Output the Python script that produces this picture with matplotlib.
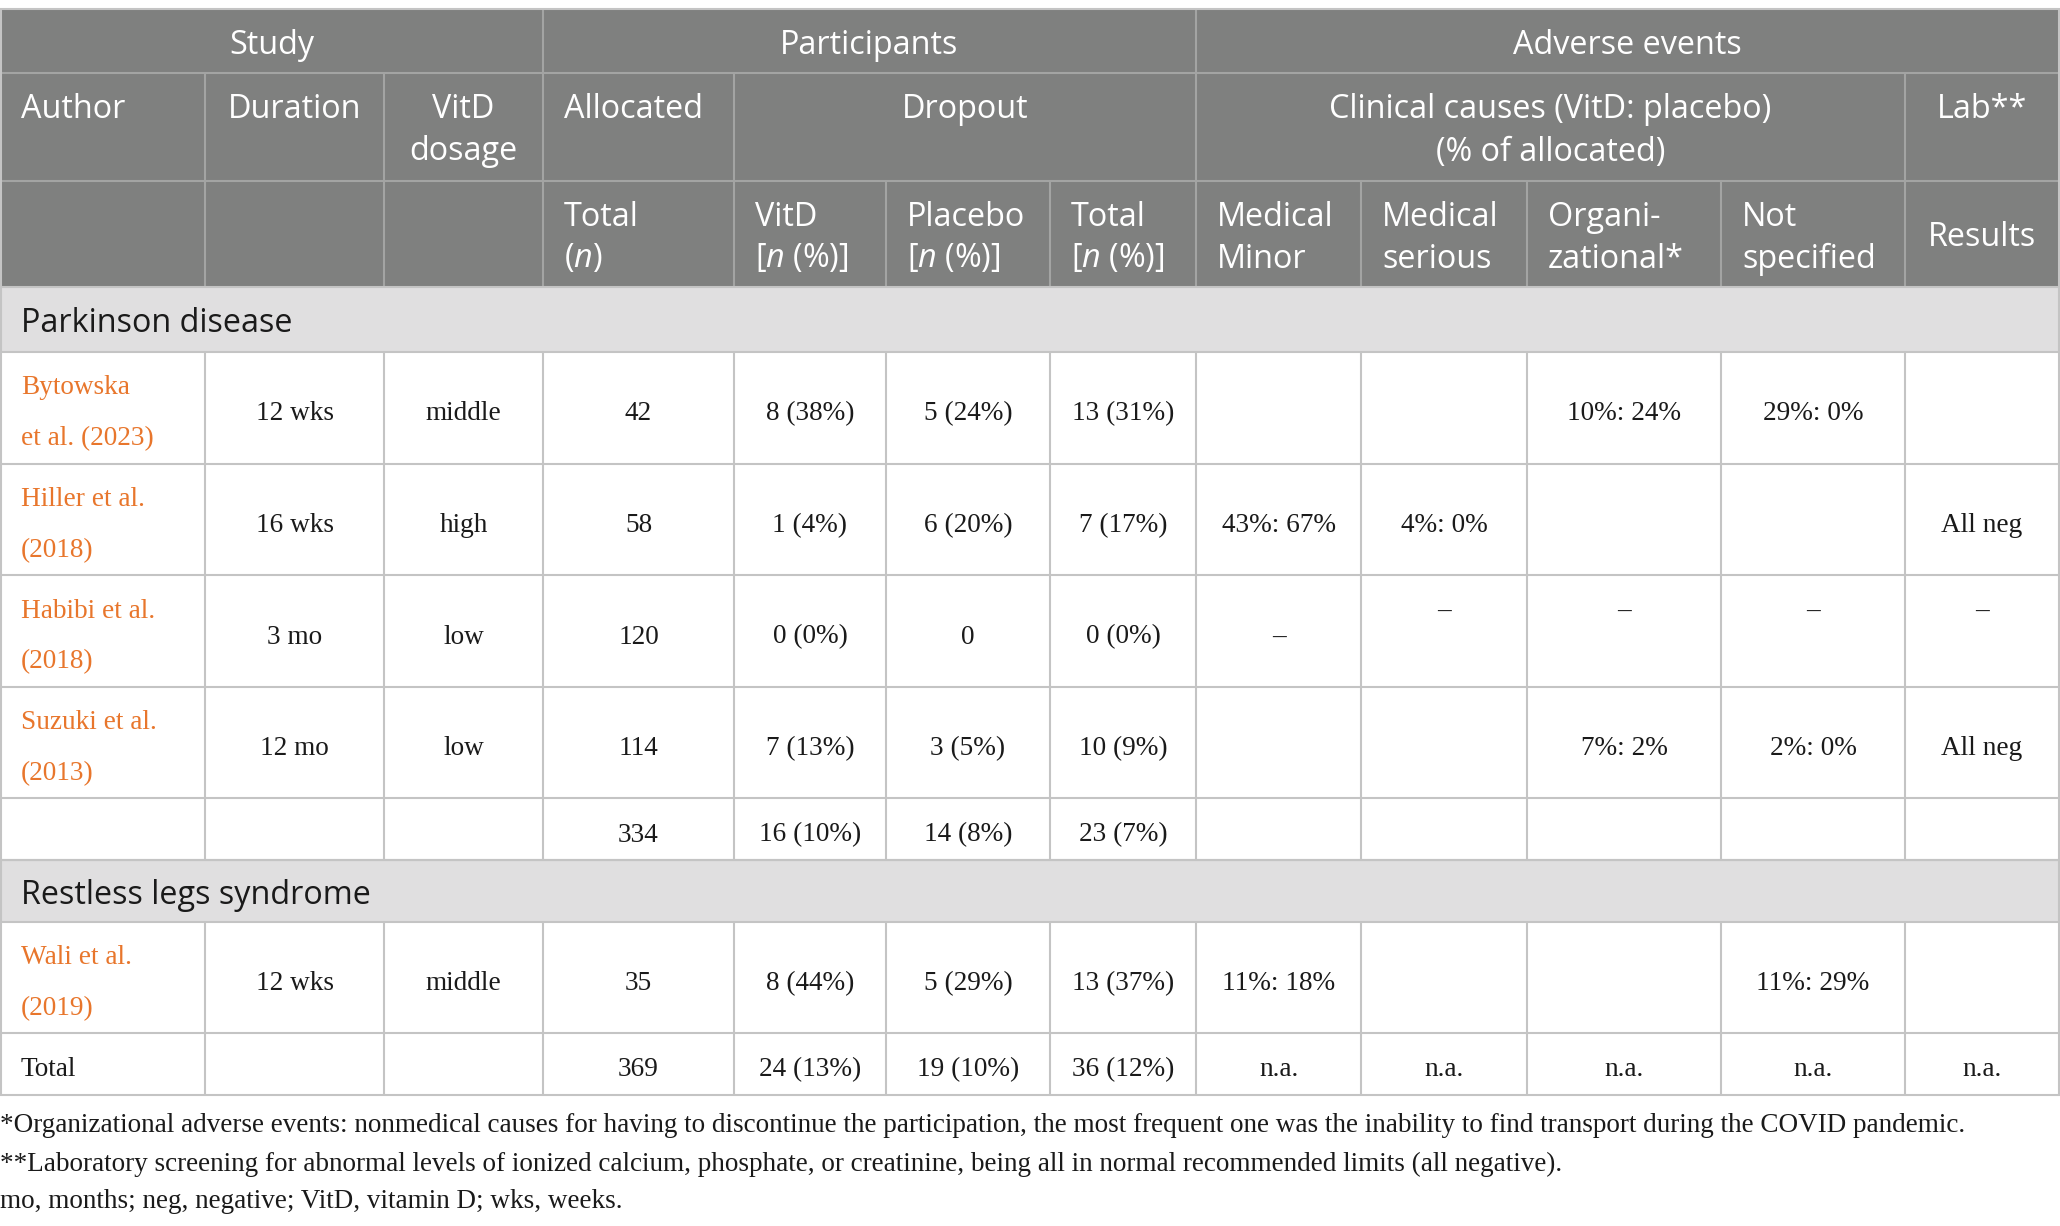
import matplotlib
matplotlib.use("Agg")
import matplotlib.pyplot as plt
from matplotlib.patches import Rectangle

plt.rcParams['mathtext.fontset'] = 'custom'
plt.rcParams['mathtext.rm'] = 'Open Sans'
plt.rcParams['mathtext.it'] = 'Open Sans:italic'

# ---- table content ----
pd_authors = ["Bytowska\net al. (2023)", "Hiller et al.\n(2018)", "Habibi et al.\n(2018)", "Suzuki et al.\n(2013)"]
pd_duration = ["12 wks", "16 wks", "3 mo", "12 mo"]
pd_dosage = ["middle", "high", "low", "low"]
pd_allocated = ["42", "58", "120", "114"]
pd_drop_vitd = ["8 (38%)", "1 (4%)", "0 (0%)", "7 (13%)"]
pd_drop_placebo = ["5 (24%)", "6 (20%)", "0", "3 (5%)"]
pd_drop_total = ["13 (31%)", "7 (17%)", "0 (0%)", "10 (9%)"]
pd_med_minor = ["", "43%: 67%", "–", ""]
pd_med_serious = ["", "4%: 0%", "–", ""]
pd_organizational = ["10%: 24%", "", "–", "7%: 2%"]
pd_not_specified = ["29%: 0%", "", "–", "2%: 0%"]
pd_lab = ["", "All neg", "–", "All neg"]

pd_subtotal = ["", "", "", "334", "16 (10%)", "14 (8%)", "23 (7%)", "", "", "", "", ""]
rls_row = ["Wali et al.\n(2019)", "12 wks", "middle", "35", "8 (44%)", "5 (29%)", "13 (37%)",
           "11%: 18%", "", "", "11%: 29%", ""]
total_row = ["Total", "", "", "369", "24 (13%)", "19 (10%)", "36 (12%)",
             "n.a.", "n.a.", "n.a.", "n.a.", "n.a."]

group_headers = ["Study", "Participants", "Adverse events"]
sub_headers = ["Author", "Duration", "VitD\ndosage", "Allocated", "Dropout",
               "Clinical causes (VitD: placebo)\n(% of allocated)", "Lab**"]
col_headers = ["", "", "", "Total\n($n$)", "VitD\n[$n$ (%)]", "Placebo\n[$n$ (%)]", "Total\n[$n$ (%)]",
               "Medical\nMinor", "Medical\nserious", "Organi-\nzational*", "Not\nspecified", "Results"]
sections = ["Parkinson disease", "Restless legs syndrome"]

footnotes = [
    "*Organizational adverse events: nonmedical causes for having to discontinue the participation, "
    "the most frequent one was the inability to find transport during the COVID pandemic.",
    "**Laboratory screening for abnormal levels of ionized calcium, phosphate, or creatinine, "
    "being all in normal recommended limits (all negative).",
    "mo, months; neg, negative; VitD, vitamin D; wks, weeks.",
]

# ---- layout (pixels) ----
W, H = 2060, 1226
xe = [0, 205, 384, 543, 734, 886, 1050, 1196, 1361, 1527, 1721, 1905, 2059]
HEAD_BG = "#7f807f"
BAND_BG = "#e0dfe0"
LINE = "#c4c4c4"
HLINE = "#a3a4a3"
ORANGE = "#e8762c"
SANS = "Open Sans"
SERIF = "Liberation Serif"
fs_head = 23.3
fs_body = 19.6
fs_foot = 19.5

fig = plt.figure(figsize=(W / 100, H / 100), dpi=100)
ax = fig.add_axes([0, 0, 1, 1])
ax.set_xlim(0, W)
ax.set_ylim(H, 0)
ax.axis("off")


def rect(x0, y0, x1, y1, color):
    ax.add_patch(Rectangle((x0, y0), x1 - x0, y1 - y0, facecolor=color, edgecolor="none", zorder=0))


def hline(y, x0, x1, color=LINE):
    ax.plot([x0, x1], [y, y], color=color, lw=1.5, solid_capstyle="butt", zorder=2)


def vline(x, y0, y1, color=LINE):
    ax.plot([x, x], [y0, y1], color=color, lw=1.5, solid_capstyle="butt", zorder=2)


def lines_text(x, ys, text, ha, color, family, size):
    for y, part in zip(ys, text.split("\n")):
        ax.text(x, y, part, ha=ha, va="center", color=color, family=family, fontsize=size, zorder=3)


# header background
rect(0, 9, W, 287, HEAD_BG)
y_top, y_h1, y_h2, y_h3 = 9, 73, 181, 287

# header row 1
spans1 = [(0, 3), (3, 7), (7, 12)]
for (a, b), lab in zip(spans1, group_headers):
    ax.text((xe[a] + xe[b]) / 2, 45, lab, ha="center", va="center", color="white",
            family=SANS, fontsize=fs_head)
for a, b in spans1[1:]:
    vline(xe[a], y_top, y_h1, HLINE)
hline(y_h1, 0, W, HLINE)

# header row 2
spans2 = [(0, 1), (1, 2), (2, 3), (3, 4), (4, 7), (7, 11), (11, 12)]
align2 = ["left", "center", "center", "left", "center", "center", "center"]
for (a, b), lab, al in zip(spans2, sub_headers, align2):
    x = xe[a] + 21 if al == "left" else (xe[a] + xe[b]) / 2
    lines_text(x, [110, 152], lab, al, "white", SANS, fs_head)
for a, b in spans2[1:]:
    vline(xe[a], y_h1, y_h2, HLINE)
hline(y_h2, 0, W, HLINE)

# header row 3
for i, lab in enumerate(col_headers):
    if i > 0:
        vline(xe[i], y_h2, y_h3, HLINE)
    if not lab:
        continue
    if lab == "Results":
        lines_text((xe[i] + xe[i + 1]) / 2, [238], lab, "center", "white", SANS, fs_head)
    else:
        lines_text(xe[i] + 21, [217, 259], lab, "left", "white", SANS, fs_head)


def band(y0, y1, label):
    rect(0, y0, W, y1, BAND_BG)
    ax.text(21, (y0 + y1) / 2 + 4, label, ha="left", va="center", color="#1a1a1a",
            family=SANS, fontsize=fs_head)
    hline(y0, 0, W)
    hline(y1, 0, W)


def data_row(y0, y1, values, raised=()):
    ym = (y0 + y1) / 2
    yc = ym + 6
    for i, v in enumerate(values):
        if i > 0:
            vline(xe[i], y0, y1)
        if not v:
            continue
        if i == 0:
            color = "#1a1a1a" if v == "Total" else ORANGE
            parts = v.split("\n")
            ys = [yc] if len(parts) == 1 else [ym - 20, ym + 31]
            lines_text(xe[0] + 21, ys, v, "left", color, SERIF, fs_body)
        else:
            y = yc - 26 if i in raised else yc
            ax.text((xe[i] + xe[i + 1]) / 2, y, v, ha="center", va="center",
                    color="#1a1a1a", family=SERIF, fontsize=fs_body)
    hline(y1, 0, W)


band(287, 352, sections[0])
row_edges = [352, 464, 575, 687, 798]
for k in range(len(pd_authors)):
    vals = [pd_authors[k], pd_duration[k], pd_dosage[k], pd_allocated[k], pd_drop_vitd[k],
            pd_drop_placebo[k], pd_drop_total[k], pd_med_minor[k], pd_med_serious[k],
            pd_organizational[k], pd_not_specified[k], pd_lab[k]]
    raised = (8, 9, 10, 11) if pd_drop_placebo[k] == "0" else ()
    data_row(row_edges[k], row_edges[k + 1], vals, raised)
data_row(798, 860, pd_subtotal)
band(860, 922, sections[1])
data_row(922, 1033, rls_row)
data_row(1033, 1095, total_row)

# outer borders
vline(0.8, y_top, 1095)
vline(W - 1, y_top, 1095)
hline(y_top, 0, W)

for y, note in zip([1126, 1164, 1201], footnotes):
    ax.text(0, y, note, ha="left", va="center", color="#1a1a1a", family=SERIF, fontsize=fs_foot)

fig.savefig("out.png", dpi=100, facecolor="white")
